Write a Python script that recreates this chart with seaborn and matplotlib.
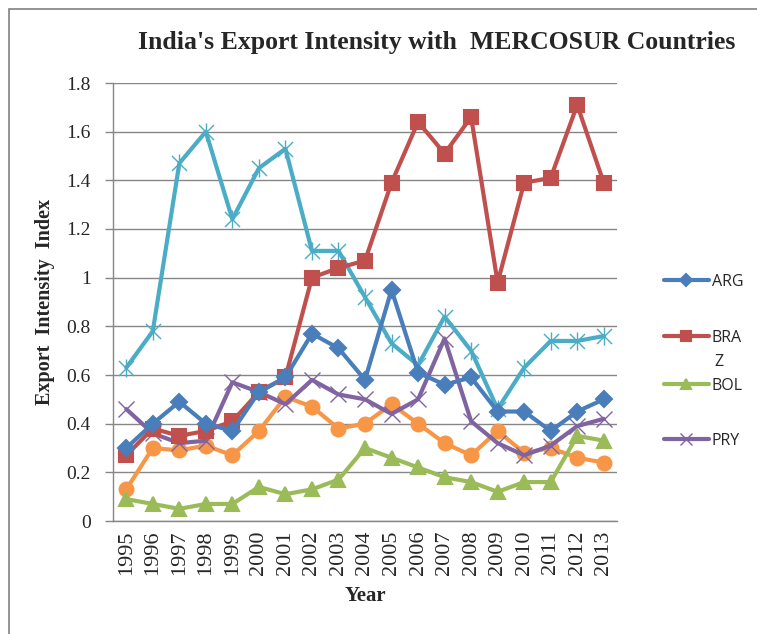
import numpy as np
import pandas as pd
import matplotlib
matplotlib.use("Agg")
import matplotlib.pyplot as plt
import seaborn as sns
from matplotlib.patches import Rectangle
from matplotlib.path import Path

years = list(range(1995, 2014))
arg = [0.30, 0.40, 0.49, 0.40, 0.37, 0.53, 0.59, 0.77, 0.71, 0.58, 0.95, 0.61, 0.56, 0.59, 0.45, 0.45, 0.37, 0.45, 0.50]
braz = [0.27, 0.38, 0.35, 0.37, 0.41, 0.53, 0.59, 1.00, 1.04, 1.07, 1.39, 1.64, 1.51, 1.66, 0.98, 1.39, 1.41, 1.71, 1.39]
bol = [0.09, 0.07, 0.05, 0.07, 0.07, 0.14, 0.11, 0.13, 0.17, 0.30, 0.26, 0.22, 0.18, 0.16, 0.12, 0.16, 0.16, 0.35, 0.33]
pry = [0.46, 0.36, 0.32, 0.33, 0.57, 0.53, 0.48, 0.58, 0.52, 0.50, 0.44, 0.50, 0.75, 0.41, 0.32, 0.27, 0.31, 0.39, 0.42]
teal = [0.63, 0.78, 1.47, 1.60, 1.24, 1.45, 1.53, 1.11, 1.11, 0.92, 0.73, 0.64, 0.84, 0.70, 0.46, 0.63, 0.74, 0.74, 0.76]
orange = [0.13, 0.30, 0.29, 0.31, 0.27, 0.37, 0.51, 0.47, 0.38, 0.40, 0.48, 0.40, 0.32, 0.27, 0.37, 0.28, 0.30, 0.26, 0.24]
legend_labels = ["ARG", "BRA", "BOL", "PRY"]

sns.set_theme(style="white")
plt.rcParams['font.family'] = ['Liberation Serif', 'DejaVu Serif']

star_path = Path([(-1, -1), (1, 1), (-1, 1), (1, -1), (0, -1.2), (0, 1.2)],
                 [Path.MOVETO, Path.LINETO, Path.MOVETO, Path.LINETO, Path.MOVETO, Path.LINETO])

fig = plt.figure(figsize=(7.57, 6.34), dpi=100)
ax = fig.add_axes([113/757, 1-521/634, (617-113)/757, (521-83)/634])

series = [
    ("teal", teal, "#4BACC6", star_path, 13, None),
    ("orange", orange, "#F79646", "o", 10, None),
    ("PRY", pry, "#8064A2", "x", 11, legend_labels[3]),
    ("BOL", bol, "#9BBB59", "^", 10, legend_labels[2]),
    ("BRAZ", braz, "#C0504D", "s", 10, legend_labels[1]),
    ("ARG", arg, "#4A7EBB", "D", 8, legend_labels[0]),
]
handles = {}
for name, vals, col, mk, ms, lab in series:
    df = pd.DataFrame({"Year": years, "v": vals})
    line_mk = isinstance(mk, Path) or mk == "x"
    sns.lineplot(data=df, x="Year", y="v", ax=ax, color=col, marker=mk,
                 markersize=ms, linewidth=3, markeredgecolor=col,
                 markeredgewidth=1.0 if line_mk else 1.5)
    if lab is not None:
        handles[lab] = ax.lines[-1]

ax.set_xlim(1994.5, 2013.5)
ax.set_ylim(0, 1.8)
ax.set_yticks(np.arange(0, 1.81, 0.2))
ax.set_yticklabels(["0", "0.2", "0.4", "0.6", "0.8", "1", "1.2", "1.4", "1.6", "1.8"], fontsize=14)
ax.set_xticks(years)
ax.set_xticklabels([str(y) for y in years], rotation=90, fontsize=16)
ax.set_xticks(np.arange(1994.5, 2014, 1), minor=True)
ax.tick_params(axis="x", which="major", length=0, pad=7)
ax.tick_params(axis="x", which="minor", length=6, color="#868686", width=1)
ax.tick_params(axis="y", length=6, color="#868686", width=1, left=True, pad=10)
ax.yaxis.grid(True, color="#868686", linewidth=1)
ax.set_axisbelow(True)
for s in ["top", "right"]:
    ax.spines[s].set_visible(False)
for s in ["left", "bottom"]:
    ax.spines[s].set_color("#868686")
    ax.spines[s].set_linewidth(1)

ax.set_xlabel("Year", fontsize=15, fontweight="bold", labelpad=8)
ax.set_ylabel("Export  Intensity  Index", fontsize=14.5, fontweight="bold", labelpad=8)

fig.text(437/757, 1-42/634, "India's Export Intensity with  MERCOSUR Countries",
         ha="center", va="center", fontsize=18.5, fontweight="bold")

leg_font = {"family": "Open Sans", "size": 11.5}
leg_y = [282, 338, 386, 441]
for lab, yy in zip(legend_labels, leg_y):
    lg = fig.legend([handles[lab]], [lab], loc="center left",
                    bbox_to_anchor=(664/757, 1-yy/634), frameon=False,
                    prop=leg_font, handlelength=2.8, handletextpad=0.2,
                    borderpad=0, borderaxespad=0, markerscale=0.75)
fig.text(714/757, 1-362/634, "Z", ha="left", va="center",
         family="Open Sans", fontsize=11.5)

fig.patches.append(Rectangle((9/757, -0.01), 1.0, 1-9/634 + 0.01, transform=fig.transFigure,
                             fill=False, edgecolor="#808080", linewidth=1.2))

fig.savefig("out.png", dpi=100)
